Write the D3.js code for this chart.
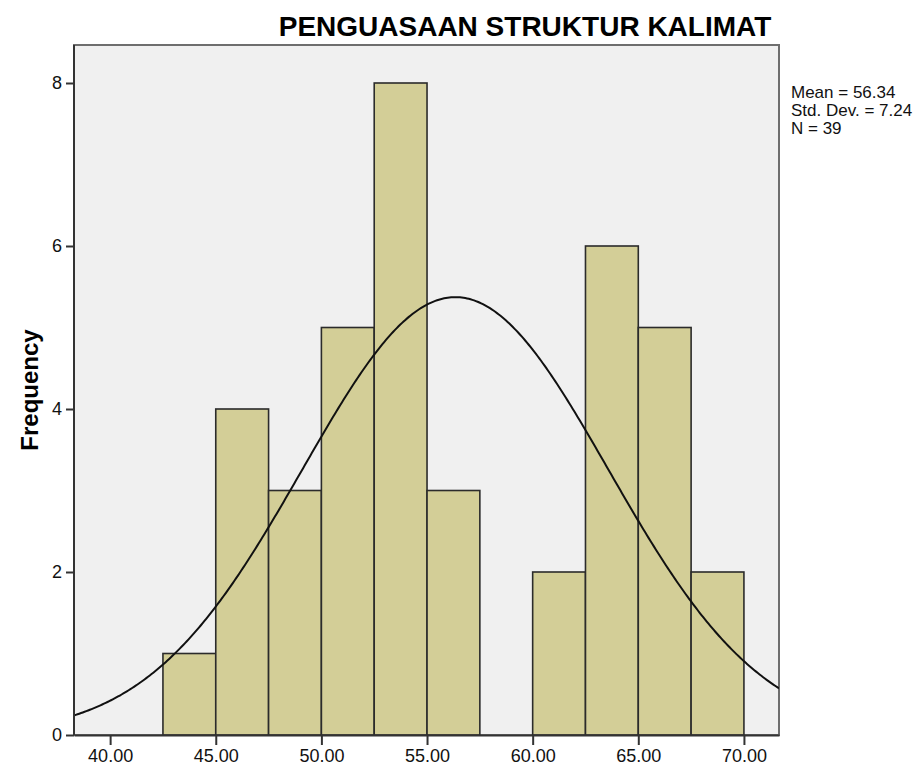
<!DOCTYPE html>
<html>
<head>
<meta charset="utf-8">
<script src="https://cdn.jsdelivr.net/npm/d3@7"></script>
<style>
  body { margin: 0; background: #fff; }
  text { font-family: Arial, "Liberation Sans", sans-serif; }
</style>
</head>
<body>
<div id="chart"></div>
<script>
// histogram bins (lower edge, upper edge) and counts
const binStarts = [42.5, 45, 47.5, 50, 52.5, 55, 57.5, 60, 62.5, 65, 67.5]
const binWidth = 2.5
const counts = [1, 4, 3, 5, 8, 3, 0, 2, 6, 5, 2]
const xTicks = [40, 45, 50, 55, 60, 65, 70]
const yTicks = [0, 2, 4, 6, 8]
const statLines = ["Mean = 56.34", "Std. Dev. = 7.24", "N = 39"]
const mean = 56.34, sd = 7.24, n = 39

const width = 923, height = 767
const plot = {left: 74, right: 779, top: 45, bottom: 735}

let svg = d3.select('#chart')
  .append('svg')
    .attr('width', width)
    .attr('height', height)

let x = d3.scaleLinear()
  .domain([38.29, 71.66])
  .range([plot.left, plot.right])

let y = d3.scaleLinear()
  .domain([0, 8])
  .range([plot.bottom, 83])

// plot background
svg.append('rect')
  .attr('x', plot.left)
  .attr('y', plot.top)
  .attr('width', plot.right - plot.left)
  .attr('height', plot.bottom - plot.top)
  .attr('fill', '#f0f0f0')
  .attr('stroke', '#6e6e6e')
  .attr('stroke-width', 2)

// bars
svg.selectAll('.bar')
  .data(counts.map((c, i) => ({x0: binStarts[i], x1: binStarts[i] + binWidth, c: c})).filter(d => d.c > 0))
  .enter()
  .append('rect')
    .attr('class', 'bar')
    .attr('x', d => x(d.x0))
    .attr('y', d => y(d.c))
    .attr('width', d => x(d.x1) - x(d.x0))
    .attr('height', d => y(0) - y(d.c))
    .attr('fill', '#d3ce97')
    .attr('stroke', '#2b2b2b')
    .attr('stroke-width', 1.6)

// normal curve from the stats shown on the right
const scale = n * binWidth / (sd * Math.sqrt(2 * Math.PI))
let curvePts = d3.range(0, 401).map(i => {
  const v = x.domain()[0] + (x.domain()[1] - x.domain()[0]) * i / 400
  return [v, scale * Math.exp(-0.5 * Math.pow((v - mean) / sd, 2))]
})

svg.append('clipPath')
  .attr('id', 'clip')
  .append('rect')
    .attr('x', plot.left)
    .attr('y', plot.top)
    .attr('width', plot.right - plot.left)
    .attr('height', plot.bottom - plot.top)

svg.append('path')
  .datum(curvePts)
  .attr('clip-path', 'url(#clip)')
  .attr('fill', 'none')
  .attr('stroke', '#111')
  .attr('stroke-width', 2)
  .attr('d', d3.line().x(d => x(d[0])).y(d => y(d[1])))

// axes
let xAxis = svg.append('g')
  .attr('transform', 'translate(0,' + plot.bottom + ')')
  .call(d3.axisBottom(x).tickValues(xTicks).tickFormat(d3.format('.2f')).tickSize(10).tickSizeOuter(0))
xAxis.select('.domain').attr('stroke', '#333').attr('stroke-width', 2)
xAxis.selectAll('.tick line').attr('stroke', '#333').attr('stroke-width', 2)
xAxis.selectAll('.tick text')
  .attr('font-size', 18)
  .attr('fill', '#111')
  .attr('dy', '0.85em')
  .attr('y', 12)

let yAxis = svg.append('g')
  .attr('transform', 'translate(' + plot.left + ',0)')
  .call(d3.axisLeft(y).tickValues(yTicks).tickSize(8).tickSizeOuter(0))
yAxis.select('.domain').attr('stroke', '#333').attr('stroke-width', 2)
  .attr('d', 'M0,' + plot.top + 'V' + plot.bottom)
yAxis.selectAll('.tick line').attr('stroke', '#333').attr('stroke-width', 2)
yAxis.selectAll('.tick text')
  .attr('font-size', 18)
  .attr('fill', '#111')
  .attr('x', -12)

// title
svg.append('text')
  .attr('x', 525)
  .attr('y', 36)
  .attr('text-anchor', 'middle')
  .attr('font-size', 28)
  .attr('font-weight', 'bold')
  .attr('fill', '#000')
  .text('PENGUASAAN STRUKTUR KALIMAT')

// y label
svg.append('text')
  .attr('transform', 'translate(38,390) rotate(-90)')
  .attr('text-anchor', 'middle')
  .attr('font-size', 24)
  .attr('font-weight', 'bold')
  .attr('fill', '#000')
  .text('Frequency')

// stats box text
svg.selectAll('.stat')
  .data(statLines)
  .enter()
  .append('text')
    .attr('class', 'stat')
    .attr('x', 791)
    .attr('y', (d, i) => 98 + i * 18)
    .attr('font-size', 17)
    .attr('fill', '#111')
    .text(d => d)
</script>
</body>
</html>
